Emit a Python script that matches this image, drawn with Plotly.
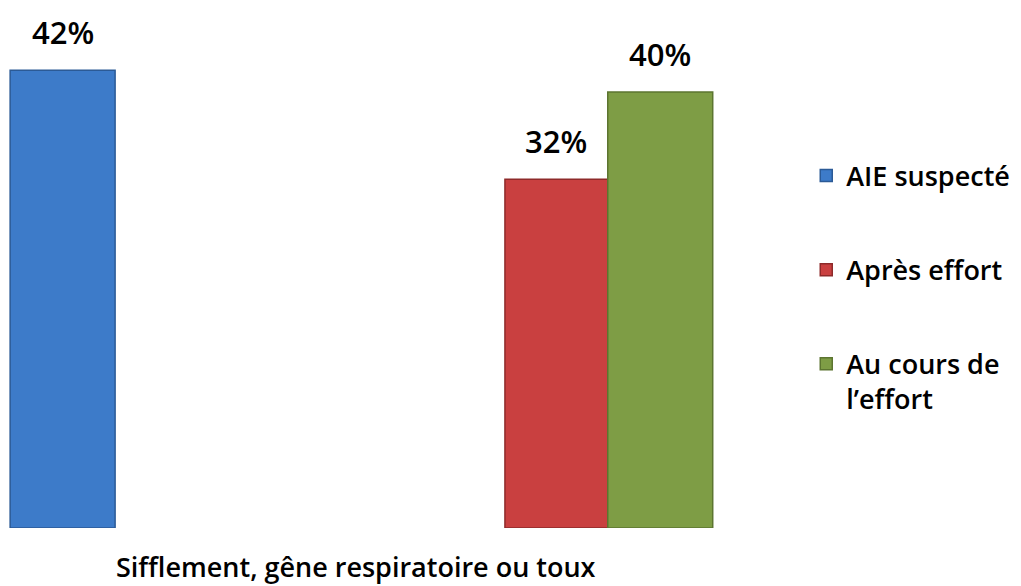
import plotly.graph_objects as go

category = ['Sifflement, gêne respiratoire ou toux']
series = ['AIE suspecté', 'Après effort', "Au cours de<br>l’effort"]
values = [42, 32, 40]

colors = ['#3D7BC9', '#C94040', '#7E9D45']
edges = ['#2B5A96', '#8E2A2A', '#5C7530']
# offset / width of each bar inside the single category (category units)
offsets = [-0.497, 0.196, 0.340]
widths = [0.147, 0.144, 0.147]

fig = go.Figure()

for name, val, col, edge, off, w in zip(series, values, colors, edges, offsets, widths):
    fig.add_trace(go.Bar(
        x=category,
        y=[val],
        name=name,
        legendgroup=name,
        offset=off,
        width=w,
        marker=dict(color=col, line=dict(color=edge, width=1.5)),
    ))
    fig.add_annotation(
        x=off + w / 2, y=val, xref='x', yref='y',
        text=f'{val}%', showarrow=False, yanchor='middle', yshift=38,
        font=dict(family='Open Sans', size=31, color='black', weight=600),
    )

# category label, drawn slightly left of the category centre as in the source
fig.add_annotation(
    x=-0.013, y=0, xref='x', yref='paper',
    text=category[0], showarrow=False, yanchor='middle', yshift=-38,
    font=dict(family='Open Sans', size=27, color='black', weight=600),
)

# page body adds an 8px margin, so the figure is sized to fit the window
fig.update_layout(
    width=1013, height=578,
    margin=dict(l=0, r=299, t=0, b=58),
    paper_bgcolor='white', plot_bgcolor='white',
    barmode='overlay',
    showlegend=True,
    legend=dict(
        x=1.118, y=0.724, xanchor='left', yanchor='top',
        font=dict(family='Open Sans', size=27, color='black', weight=600),
        tracegroupgap=56, valign='top',
        itemwidth=30,
    ),
    xaxis=dict(
        range=[-0.5, 0.5], showgrid=False, showline=False, zeroline=False,
        showticklabels=False,
    ),
    yaxis=dict(range=[0, 47.7], visible=False),
)

fig.write_html('out.html')
